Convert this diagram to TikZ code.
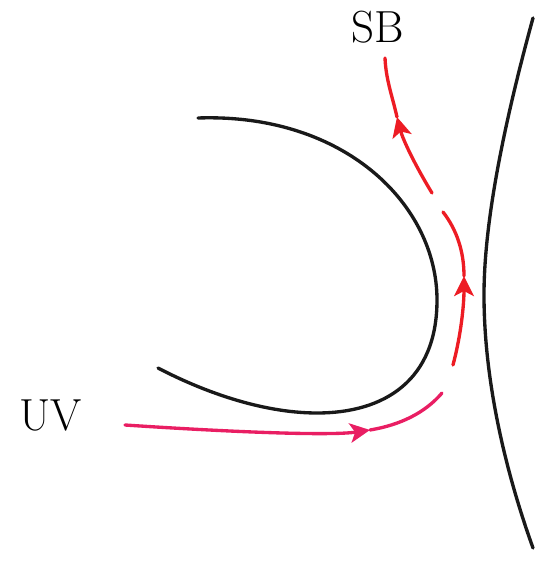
\documentclass[tikz,border=0pt]{standalone}
\usepackage{tikz}
\usetikzlibrary{arrows.meta, positioning, calc}

\definecolor{uvpink}{RGB}{233,30,99}
\definecolor{sbred}{RGB}{237,28,36}

\begin{document}
\begin{tikzpicture}[>={Stealth[length=4mm, width=3.9mm, inset=1mm]},
    wall/.style={line width=1.9pt, black!90, line cap=round},
    flow/.style={line width=1.9pt, line cap=round},
    lbl/.style={font=\fontsize{25.6}{30}\selectfont, inner sep=0pt}]
    \useasboundingbox (0, 0) rectangle (10.72, 11.54);

    % labels
    \node[lbl] (SB) at (7.56, 11.00) {SB};
    \node[lbl] (UV) at (1.02, 3.24) {UV};

    % end points of the flow
    \coordinate (uvstart) at (2.50, 3.04);
    \coordinate (sbend) at (7.70, 10.38);
    \coordinate (tipA) at (7.40, 2.94);
    \coordinate (tipB) at (9.28, 6.02);
    \coordinate (tipC) at (7.94, 9.20);

    % inner curve
    \draw[wall] (3.96, 9.18) .. controls (6.90, 9.28) and (8.74, 7.44) .. (8.74, 5.54)
        .. controls (8.74, 3.94) and (7.70, 3.28) .. (6.34, 3.28)
        .. controls (5.20, 3.28) and (4.00, 3.74) .. (3.16, 4.18);

    % outer curve
    \draw[wall] (10.66, 11.18) .. controls (10.10, 9.14) and (9.68, 7.14) .. (9.68, 5.64)
        .. controls (9.68, 3.94) and (10.10, 2.14) .. (10.66, 0.58);

    % flow UV -> SB, in three pieces
    \draw[flow, uvpink, ->] (uvstart) .. controls (4.60, 2.90) and (6.60, 2.82) .. (tipA);
    \draw[flow, uvpink] (tipA) .. controls (8.00, 3.04) and (8.50, 3.28) .. (8.84, 3.68);

    \draw[flow, sbred, ->] (9.06, 4.24) .. controls (9.22, 4.84) and (9.28, 5.44) .. (tipB);
    \draw[flow, sbred] (tipB) .. controls (9.28, 6.50) and (9.14, 6.94) .. (8.86, 7.30);

    \draw[flow, sbred, ->] (8.64, 7.68) .. controls (8.30, 8.24) and (8.06, 8.74) .. (tipC);
    \draw[flow, sbred] (tipC) .. controls (7.84, 9.64) and (7.72, 9.94) .. (sbend);

\end{tikzpicture}
\end{document}
